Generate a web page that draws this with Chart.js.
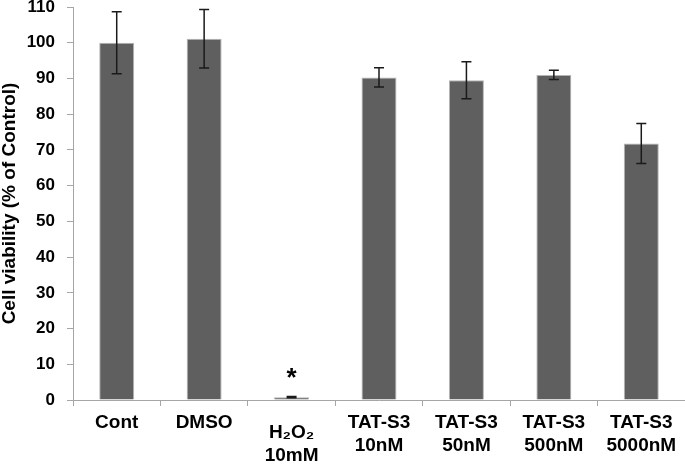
<!DOCTYPE html>
<html>
<head>
<meta charset="utf-8">
<script src="https://cdn.jsdelivr.net/npm/chart.js@4/dist/chart.umd.min.js"></script>
<style>
  html, body { margin: 0; padding: 0; background: #fff; }
  #wrap { width: 685px; height: 464px; position: relative; }
</style>
</head>
<body>
<div id="wrap"><canvas id="c"></canvas></div>
<script>
// ---- data ----
const categories = ['Cont', 'DMSO', ['H\u2082O\u2082', '10mM'], ['TAT-S3', '10nM'], ['TAT-S3', '50nM'], ['TAT-S3', '500nM'], ['TAT-S3', '5000nM']];
const viability = [100, 101.1, 0.8, 90.3, 89.5, 91.0, 71.8];
const viabilityError = [8.7, 8.2, 0.2, 2.7, 5.2, 1.3, 5.6];
const significance = ['', '', '*', '', '', '', ''];
const yTickMin = 0;
const yTickMax = 110;
const yTickStep = 10;
const yTitle = 'Cell viability (% of Control)';
const loweredLabelIndex = 2; // this category's label sits lower in the reference

const FONT = '"Liberation Sans", Arial, Helvetica, sans-serif';
Chart.defaults.font.family = FONT;
Chart.defaults.color = '#000';

const errorBarPlugin = {
  id: 'errorBars',
  afterDatasetsDraw(chart) {
    const ctx = chart.ctx;
    const meta = chart.getDatasetMeta(0);
    const ys = chart.scales.y;
    ctx.save();
    ctx.strokeStyle = '#1a1a1a';
    ctx.lineWidth = 1.5;
    meta.data.forEach((bar, i) => {
      const v = viability[i], e = viabilityError[i];
      const x = bar.x;
      const yTop = ys.getPixelForValue(v + e);
      const yBot = ys.getPixelForValue(v - e);
      const cap = 5;
      ctx.beginPath();
      ctx.moveTo(x, yTop); ctx.lineTo(x, yBot);
      ctx.moveTo(x - cap, yTop); ctx.lineTo(x + cap, yTop);
      ctx.moveTo(x - cap, yBot); ctx.lineTo(x + cap, yBot);
      ctx.stroke();
      if (significance[i]) {
        ctx.fillStyle = '#000';
        ctx.font = 'bold 26px ' + FONT;
        ctx.textAlign = 'center';
        ctx.textBaseline = 'alphabetic';
        ctx.fillText(significance[i], x, yTop - 10);
      }
    });
    ctx.restore();
  }
};

const loweredLabelPlugin = {
  id: 'loweredLabel',
  afterDraw(chart) {
    const xs = chart.scales.x;
    const ctx = chart.ctx;
    const lines = categories[loweredLabelIndex];
    const px = xs.getPixelForValue(loweredLabelIndex);
    ctx.save();
    ctx.fillStyle = '#000';
    ctx.font = 'bold 19px ' + FONT;
    ctx.textAlign = 'center';
    ctx.textBaseline = 'alphabetic';
    lines.forEach((l, j) => ctx.fillText(l, px, xs.top + 38 + j * 23));
    ctx.restore();
  }
};

new Chart(document.getElementById('c'), {
  type: 'bar',
  data: {
    labels: categories,
    datasets: [{
      data: viability,
      backgroundColor: '#5f5f5f',
      borderColor: '#b4b4b4',
      borderWidth: 1,
      categoryPercentage: 1.0,
      barPercentage: 0.4
    }]
  },
  options: {
    responsive: true,
    maintainAspectRatio: false,
    animation: false,
    layout: { padding: { top: 7, right: 0, bottom: 0, left: 0 } },
    plugins: { legend: { display: false }, tooltip: { enabled: false } },
    scales: {
      x: {
        offset: true,
        afterFit: (s) => { s.height = 64; s.paddingLeft = 0; s.paddingRight = 0; },
        grid: { display: true, drawOnChartArea: false, drawTicks: true, tickLength: 6, color: '#a6a6a6', offset: true },
        border: { display: true, color: '#a6a6a6', width: 1 },
        ticks: {
          autoSkip: false,
          maxRotation: 0,
          padding: 5,
          color: '#000',
          font: { size: 19, weight: 'bold', lineHeight: '23px' },
          callback: (v, i) => i === loweredLabelIndex ? '' : categories[i]
        }
      },
      y: {
        min: yTickMin,
        max: yTickMax,
        afterFit: (s) => { s.width = 73; s.paddingTop = 0; s.paddingBottom = 0; },
        grid: { display: true, drawOnChartArea: false, drawTicks: true, tickLength: 6, color: '#a6a6a6' },
        border: { display: true, color: '#a6a6a6', width: 1 },
        ticks: {
          stepSize: yTickStep,
          padding: 12,
          color: '#000',
          font: { size: 17, weight: 'bold', lineHeight: '14px' }
        },
        title: {
          display: true,
          text: yTitle,
          color: '#000',
          font: { size: 19, weight: 'bold', lineHeight: 1 },
          padding: { top: 0, bottom: 8 }
        }
      }
    }
  },
  plugins: [errorBarPlugin, loweredLabelPlugin]
});
</script>
</body>
</html>
